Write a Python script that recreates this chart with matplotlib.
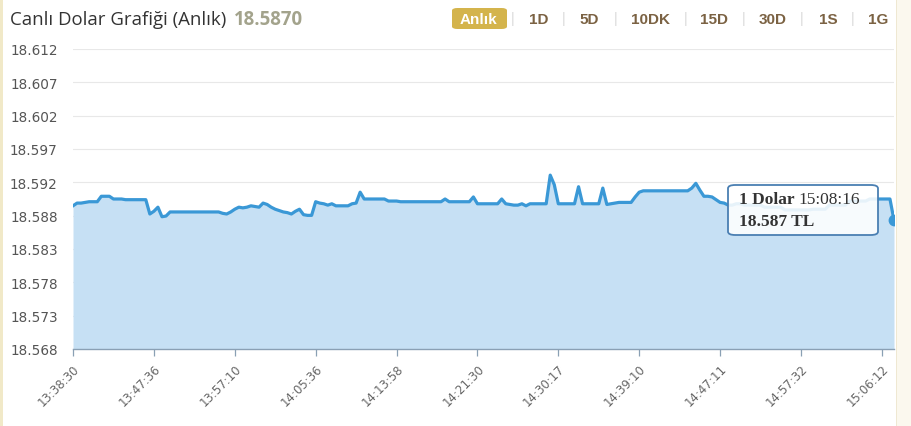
import matplotlib
matplotlib.use("Agg")
import matplotlib.pyplot as plt
import numpy as np
from matplotlib.patches import FancyBboxPatch, Rectangle

# ---------------- data ----------------
title = "Canlı Dolar Grafiği (Anlık)"
current_price = "18.5870"
periods = ["Anlık", "1D", "5D", "10DK", "15D", "30D", "1S", "1G"]
time_labels = ["13:38:30", "13:47:36", "13:57:10", "14:05:36", "14:13:58",
               "14:21:30", "14:30:17", "14:39:10", "14:47:11", "14:57:32", "15:06:12"]
y_labels = ["18.568", "18.573", "18.578", "18.583", "18.588",
            "18.592", "18.597", "18.602", "18.607", "18.612"]
y_min, y_max = 18.568, 18.612
tooltip_name = "1 Dolar"
tooltip_time = "15:08:16"
tooltip_value = "18.587 TL"

prices = [
    18.5890, 18.5894, 18.5894, 18.5895, 18.5896, 18.5896, 18.5896, 18.5904, 18.5904, 18.5904,
    18.5900, 18.5900, 18.5900, 18.5899, 18.5899, 18.5899, 18.5899, 18.5899, 18.5899,
    18.5878, 18.5882, 18.5888, 18.5874, 18.5875, 18.5881,
    18.5881, 18.5881, 18.5881, 18.5881, 18.5881, 18.5881, 18.5881, 18.5881, 18.5881, 18.5881,
    18.5881, 18.5881,
    18.5879, 18.5878,
    18.5881, 18.5885, 18.5888, 18.5887, 18.5888, 18.5890, 18.5889, 18.5888, 18.5894, 18.5892,
    18.5888, 18.5885, 18.5883, 18.5881, 18.5880, 18.5878, 18.5882, 18.5885, 18.5877, 18.5876,
    18.5876,
    18.5896, 18.5894, 18.5893, 18.5891, 18.5893, 18.5890, 18.5890, 18.5890, 18.5890, 18.5893,
    18.5894, 18.5910, 18.5900,
    18.5900, 18.5900, 18.5900, 18.5900, 18.5900,
    18.5897, 18.5897, 18.5897,
    18.5896, 18.5896, 18.5896, 18.5896, 18.5896, 18.5896, 18.5896, 18.5896, 18.5896, 18.5896,
    18.5896,
    18.5900,
    18.5896, 18.5896, 18.5896, 18.5896, 18.5896, 18.5896,
    18.5903,
    18.5893, 18.5893, 18.5893, 18.5893, 18.5893, 18.5893,
    18.5900,
    18.5893, 18.5892, 18.5891, 18.5891, 18.5893, 18.5890, 18.5893, 18.5893, 18.5893, 18.5893,
    18.5893,
    18.5935, 18.5921,
    18.5893, 18.5893, 18.5893, 18.5893, 18.5893,
    18.5918,
    18.5893, 18.5893, 18.5893, 18.5893, 18.5893,
    18.5916,
    18.5892, 18.5893, 18.5894,
    18.5895, 18.5895, 18.5895, 18.5895,
    18.5903, 18.5910, 18.5912,
    18.5912, 18.5912, 18.5912, 18.5912, 18.5912, 18.5912, 18.5912, 18.5912, 18.5912, 18.5912,
    18.5912,
    18.5916, 18.5923, 18.5913, 18.5904, 18.5904, 18.5903, 18.5899, 18.5895, 18.5894, 18.5891,
    18.5891, 18.5893, 18.5893,
    18.5891, 18.5891, 18.5891, 18.5891, 18.5891,
    18.5888, 18.5888, 18.5888, 18.5888, 18.5888,
    18.5884, 18.5884, 18.5884, 18.5884, 18.5884, 18.5884, 18.5884,
    18.5885, 18.5885, 18.5885, 18.5885,
    18.5891, 18.5891, 18.5891, 18.5891, 18.5891,
    18.5897, 18.5897, 18.5897, 18.5897, 18.5897,
    18.5900, 18.5900, 18.5900, 18.5900, 18.5900, 18.5900,
    18.5869,
]

# ---------------- figure ----------------
W, H = 911, 427
fig = plt.figure(figsize=(W / 100, H / 100), dpi=100)
fig.patch.set_facecolor("white")

def fx(px):
    return px / W

def fy(py):
    return 1 - py / H

# side borders
fig.add_artist(Rectangle((0, 0), fx(3), 1, transform=fig.transFigure,
                         facecolor="#f1e9c8", edgecolor="none"))
fig.add_artist(Rectangle((fx(897), 0), fx(W - 897), 1, transform=fig.transFigure,
                         facecolor="#fbf8ee", edgecolor="none"))
fig.add_artist(Rectangle((fx(896), 0), fx(1.2), 1, transform=fig.transFigure,
                         facecolor="#efe8d2", edgecolor="none"))

ax = fig.add_axes([fx(73), fy(350), fx(894 - 73), (350 - 50) / H])
ax.set_facecolor("white")

x = np.arange(len(prices))
line_color = "#3a98d6"
ax.fill_between(x, prices, y_min, color="#c6e0f4", lw=0, zorder=1)
ax.plot(x, prices, color=line_color, lw=2.3, zorder=3, solid_joinstyle="round")
ax.plot(x[-1:], prices[-1:], "o", color=line_color, ms=7.5, zorder=4)

ax.set_xlim(0, len(prices) - 1)
ax.set_ylim(y_min, y_max)

yt = np.linspace(y_min, y_max, len(y_labels))
ax.set_yticks(yt)
ax.set_yticklabels(y_labels, fontsize=9.8, color="#555555", family="DejaVu Sans")
ax.yaxis.grid(True, color="#e8e8e8", lw=0.8, zorder=0)
ax.tick_params(axis="y", length=0, pad=11)

xt = np.arange(0, 20 * len(time_labels), 20)
ax.set_xticks(xt)
ax.set_xticklabels(time_labels, rotation=45, ha="right", rotation_mode="anchor",
                   fontsize=8.5, color="#666666", family="DejaVu Sans")
ax.tick_params(axis="x", length=5, width=0.9, color="#8aa0b4", pad=4)

for s in ["top", "right", "left"]:
    ax.spines[s].set_visible(False)
ax.spines["bottom"].set_color("#8aa0b4")
ax.spines["bottom"].set_linewidth(1.0)
ax.set_axisbelow(True)

# ---------------- header ----------------
t = fig.text(fx(10), fy(20), title, fontsize=13.4, color="#333333",
             family="Open Sans", va="center", ha="left")
fig.canvas.draw()
bb = t.get_window_extent()
fig.text(bb.x1 / W + fx(8), fy(20), current_price, fontsize=13.4, color="#a3a38c",
         family="Open Sans", fontweight="bold", va="center", ha="left")

btn_x = [479, 539, 589, 650, 714, 773, 828, 878]
sep_x = [513, 564, 616, 686, 744, 802, 853]
for i, (lab, px) in enumerate(zip(periods, btn_x)):
    if i == 0:
        fig.add_artist(FancyBboxPatch((fx(452), fy(30)), fx(55), 21 / H,
                                      boxstyle="round,pad=0,rounding_size=0.006",
                                      transform=fig.transFigure,
                                      facecolor="#d4b44c", edgecolor="none"))
        fig.text(fx(px), fy(19.5), lab, fontsize=11, color="white", fontweight="bold",
                 family="Liberation Sans", ha="center", va="center")
    else:
        fig.text(fx(px), fy(19.5), lab, fontsize=11, color="#7b6243", fontweight="bold",
                 family="Liberation Sans", ha="center", va="center")
for px in sep_x:
    fig.text(fx(px), fy(19.5), "|", fontsize=10, color="#d9d9d9",
             family="Liberation Sans", ha="center", va="center")

# ---------------- tooltip ----------------
box = FancyBboxPatch((fx(728), fy(236)), fx(878 - 728), (236 - 186) / H,
                     boxstyle="round,pad=0,rounding_size=0.008",
                     transform=fig.transFigure, facecolor="white", alpha=0.88,
                     edgecolor="none", zorder=10)
fig.add_artist(box)
box2 = FancyBboxPatch((fx(728), fy(236)), fx(878 - 728), (236 - 186) / H,
                      boxstyle="round,pad=0,rounding_size=0.008",
                      transform=fig.transFigure, facecolor="none",
                      edgecolor="#4a7fb2", lw=1.3, zorder=11)
fig.add_artist(box2)
tn = fig.text(fx(739), fy(200), tooltip_name, fontsize=12.5, fontweight="bold",
              color="#333333", family="Liberation Serif", va="center", ha="left", zorder=12)
fig.canvas.draw()
bb2 = tn.get_window_extent()
fig.text(bb2.x1 / W + fx(4), fy(200), tooltip_time, fontsize=12.5, color="#333333",
         family="Liberation Serif", va="center", ha="left", zorder=12)
fig.text(fx(739), fy(222), tooltip_value, fontsize=12.5, fontweight="bold",
         color="#333333", family="Liberation Serif", va="center", ha="left", zorder=12)

fig.savefig("out.png", dpi=100, facecolor=fig.get_facecolor())
